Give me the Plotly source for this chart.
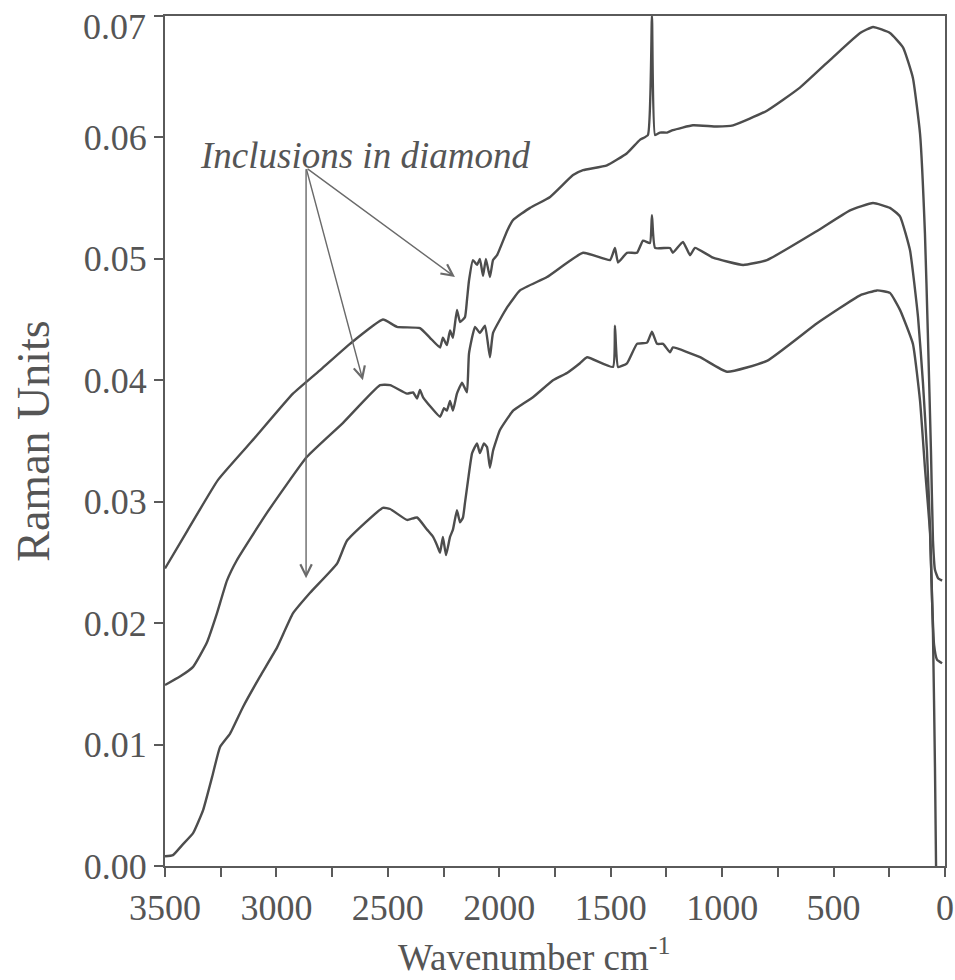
import plotly.graph_objects as go

# Wavenumber (cm^-1) and Raman intensity for the three spectra
wn_top = [3500, 3400, 3262, 3100, 2926, 2800, 2670, 2522, 2459, 2356, 2311, 2266, 2253, 2235, 2221, 2208, 2190, 2176,
          2154, 2145, 2136, 2118, 2100, 2087, 2073, 2060, 2042, 2028, 2010, 1965, 1938, 1862, 1772,
          1669, 1624, 1517, 1427, 1369, 1333, 1315, 1301, 1279, 1247, 1221, 1131, 1023, 951, 799,
          651, 503, 381, 323, 247, 188, 144, 112, 90, 77, 63, 54, 45, 31, 13]
int_top = [0.0245, 0.0276, 0.0318, 0.0352, 0.0389, 0.0409, 0.0430, 0.0450, 0.0444, 0.0443, 0.0435, 0.0427, 0.0435, 0.0429,
           0.0441, 0.0435, 0.0458, 0.0448, 0.0452, 0.0466, 0.0482, 0.0499, 0.0495, 0.0500, 0.0486,
           0.0500, 0.0485, 0.0499, 0.0503, 0.0523, 0.0532, 0.0542, 0.0551, 0.0569, 0.0573, 0.0577,
           0.0587, 0.0598, 0.0602, 0.0700, 0.0602, 0.0604, 0.0604, 0.0606, 0.0610, 0.0609, 0.0610,
           0.0622, 0.0641, 0.0666, 0.0686, 0.0691, 0.0686, 0.0674, 0.0649, 0.0603, 0.0521, 0.0439,
           0.0342, 0.0268, 0.0244, 0.0237, 0.0235]

wn_mid = [3500, 3433, 3374, 3312, 3267, 3222, 3177, 3042, 2863, 2701, 2535, 2490, 2414, 2387, 2369,
          2356, 2342, 2266, 2248, 2235, 2221, 2208, 2190, 2167, 2145, 2136, 2109, 2087, 2064, 2042,
          2028, 1965, 1907, 1786, 1624, 1503, 1481, 1467, 1427, 1382, 1355, 1324, 1315, 1301, 1234,
          1221, 1176, 1144, 1122, 1041, 906, 799, 574, 426, 323, 247, 202, 157, 121, 99, 81, 67, 58,
          49, 36, 13]
int_mid = [0.0149, 0.0156, 0.0164, 0.0184, 0.0208, 0.0235, 0.0252, 0.0291, 0.0337, 0.0365, 0.0396,
           0.0396, 0.0389, 0.0390, 0.0385, 0.0392, 0.0386, 0.0370, 0.0377, 0.0375, 0.0383, 0.0375,
           0.0389, 0.0398, 0.0390, 0.0422, 0.0444, 0.0439, 0.0445, 0.0419, 0.0439, 0.0460, 0.0474,
           0.0485, 0.0505, 0.0499, 0.0509, 0.0497, 0.0505, 0.0505, 0.0515, 0.0513, 0.0536, 0.0509,
           0.0509, 0.0505, 0.0514, 0.0503, 0.0509, 0.0501, 0.0495, 0.0499, 0.0523, 0.0540, 0.0546,
           0.0542, 0.0535, 0.0507, 0.0452, 0.0398, 0.0342, 0.0277, 0.0219, 0.0182, 0.0170, 0.0167]

wn_bot = [3500, 3464, 3424, 3374, 3329, 3289, 3253, 3208, 3150, 3074, 2997, 2926, 2849, 2728, 2683,
          2522, 2490, 2414, 2369, 2324, 2297, 2279, 2266, 2253, 2239, 2221, 2208, 2190, 2176, 2163,
          2154, 2140, 2122, 2100, 2087, 2069, 2055, 2042, 2028, 1997, 1938, 1907, 1849, 1759, 1696,
          1638, 1606, 1490, 1481, 1467, 1427, 1382, 1337, 1315, 1292, 1265, 1234, 1221, 1099, 978,
          799, 574, 381, 305, 247, 202, 144, 112, 90, 67, 54, 45, 40]
int_bot = [0.0008, 0.0009, 0.0017, 0.0027, 0.0046, 0.0073, 0.0098, 0.0109, 0.0131, 0.0156, 0.0180,
           0.0208, 0.0225, 0.0249, 0.0268, 0.0295, 0.0294, 0.0285, 0.0287, 0.0277, 0.0271, 0.0264,
           0.0258, 0.0271, 0.0256, 0.0271, 0.0277, 0.0293, 0.0283, 0.0287, 0.0299, 0.0318, 0.0340,
           0.0348, 0.0340, 0.0348, 0.0345, 0.0328, 0.0342, 0.0359, 0.0375, 0.0379, 0.0386, 0.0400,
           0.0406, 0.0414, 0.0419, 0.0411, 0.0445, 0.0411, 0.0414, 0.0430, 0.0431, 0.0440, 0.0430,
           0.0430, 0.0423, 0.0427, 0.0419, 0.0407, 0.0416, 0.0447, 0.0470, 0.0474, 0.0472, 0.0458,
           0.0430, 0.0383, 0.0328, 0.0274, 0.0192, 0.0081, -0.0003]

y_ticks = [0.00, 0.01, 0.02, 0.03, 0.04, 0.05, 0.06, 0.07]
x_ticks = [3500, 3000, 2500, 2000, 1500, 1000, 500, 0]

label_text = "Inclusions in diamond"
label_pos = (2603, 0.0585)
arrow_tail = (2867, 0.0575)
arrow_tips = [(2199, 0.0485), (2612, 0.0400), (2867, 0.0237)]

LINE = "#4d4d4d"
AX = "#5a5a5a"
TXT = "#555555"
FONT = "Liberation Serif"

fig = go.Figure()
for xs, ys in [(wn_top, int_top), (wn_mid, int_mid), (wn_bot, int_bot)]:
    fig.add_trace(go.Scatter(x=xs, y=ys, mode="lines",
                             line=dict(color=LINE, width=2.4, shape="spline", smoothing=0.4),
                             showlegend=False))

fig.add_annotation(x=label_pos[0], y=label_pos[1], text="<i>" + label_text + "</i>",
                   showarrow=False, font=dict(family=FONT, size=37, color=TXT))
for tx, ty in arrow_tips:
    fig.add_annotation(x=tx, y=ty, ax=arrow_tail[0], ay=arrow_tail[1], axref="x", ayref="y",
                       xref="x", yref="y", text="", showarrow=True, arrowhead=5,
                       arrowsize=1.6, arrowwidth=1.4, arrowcolor="#6a6a6a")

# top tick label sits just below the frame (as in the original), so it is drawn separately
y_labels = ["%.2f" % v for v in y_ticks]
top_label = y_labels[-1]
y_labels[-1] = ""
fig.add_annotation(xref="paper", yref="paper", x=0, y=1, xanchor="right", yanchor="middle",
                   xshift=-17, yshift=-11, text=top_label, showarrow=False,
                   font=dict(family=FONT, size=36, color=TXT))
# x-axis title
fig.add_annotation(xref="paper", yref="paper", x=0.473, y=0, xanchor="center", yanchor="middle",
                   yshift=-88, text="Wavenumber cm<sup>-1</sup>", showarrow=False,
                   font=dict(family=FONT, size=37, color=TXT))

fig.update_layout(
    width=955, height=980,
    margin=dict(l=165, r=10, t=16, b=114),
    paper_bgcolor="white", plot_bgcolor="white",
    font=dict(family=FONT, size=36, color=TXT),
)
fig.update_xaxes(
    range=[3500, 0], tickvals=x_ticks, ticktext=[str(v) for v in x_ticks],
    ticks="outside", ticklen=9, tickwidth=2, tickcolor=AX, automargin=False,
    ticklabeloverflow="allow",
    minor=dict(dtick=250, ticks="outside", ticklen=9, tickwidth=2, tickcolor=AX),
    showline=True, linewidth=2, linecolor=AX, mirror=True, showgrid=False, zeroline=False,
    tickfont=dict(family=FONT, size=36, color=TXT),
)
fig.update_yaxes(
    range=[0, 0.0700001], tickvals=y_ticks, ticktext=y_labels,
    ticks="outside", ticklen=9, tickwidth=2, tickcolor=AX, automargin=False,
    ticklabeloverflow="allow",
    showline=True, linewidth=2, linecolor=AX, mirror=True, showgrid=False, zeroline=False,
    tickfont=dict(family=FONT, size=36, color=TXT),
    title=dict(text="Raman Units", standoff=20,
               font=dict(family=FONT, size=46, color=TXT)),
)

fig.write_html("out.html")
